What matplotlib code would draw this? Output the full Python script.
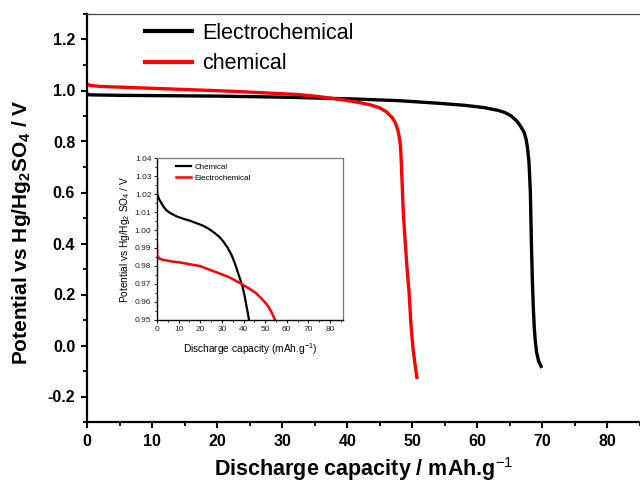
import matplotlib
matplotlib.use("Agg")
import matplotlib.pyplot as plt
from matplotlib.ticker import MultipleLocator

plt.rcParams['font.family'] = ['Liberation Sans', 'DejaVu Sans']
plt.rcParams['mathtext.fontset'] = 'custom'
plt.rcParams['mathtext.rm'] = 'Liberation Sans'
plt.rcParams['mathtext.bf'] = 'Liberation Sans:bold'

# Main discharge curves (capacity in mAh/g, potential in V)
electro_cap = [0, 0.3, 5, 10, 20, 30, 36, 42, 48, 54, 58, 61, 63.2, 64.3, 65.2,
               66.0, 66.6, 67.2, 67.5, 67.7, 67.9, 68.0, 68.15, 68.3, 68.45,
               68.6, 68.75, 68.9, 69.1, 69.4, 69.8]
electro_pot = [0.988, 0.983, 0.981, 0.980, 0.978, 0.974, 0.970, 0.966, 0.960,
               0.950, 0.942, 0.933, 0.922, 0.913, 0.900, 0.882, 0.862, 0.835,
               0.808, 0.776, 0.730, 0.686, 0.60, 0.41, 0.26, 0.15, 0.07, 0.02,
               -0.025, -0.06, -0.082]

chem_cap = [0, 0.5, 2, 9.6, 22.4, 32.6, 35.7, 38, 40, 41.8, 43.5, 44.9, 46,
            46.9, 47.4, 47.8, 48.05, 48.2, 48.3, 48.4, 48.6, 48.9, 49.2, 49.5,
            49.8, 50.1, 50.4, 50.7]
chem_pot = [1.025, 1.020, 1.016, 1.009, 0.997, 0.984, 0.976, 0.968, 0.961,
            0.953, 0.944, 0.933, 0.917, 0.894, 0.873, 0.843, 0.81, 0.776, 0.72,
            0.66, 0.53, 0.41, 0.30, 0.21, 0.08, -0.01, -0.07, -0.125]

# Inset: zoom on the plateau region
ins_chem_cap = [0, 0.02, 0.1, 0.4, 1, 2, 3, 4.3, 6, 9, 12, 15.1, 18, 21.3, 24,
                26.7, 28.8, 30.6, 32.6, 34.4, 36, 37.5, 38.5, 39.5, 40.5, 41.4,
                42, 42.5]
ins_chem_pot = [1.028, 1.023, 1.0205, 1.019, 1.017, 1.015, 1.013, 1.011,
                1.0095, 1.0076, 1.0063, 1.0052, 1.0039, 1.0024, 1.0006, 0.9983,
                0.9962, 0.9937, 0.9903, 0.9863, 0.9815, 0.976, 0.9725, 0.9687,
                0.9635, 0.9576, 0.9538, 0.9502]

ins_electro_cap = [0, 0.02, 0.2, 1, 2.5, 4.3, 7, 10.5, 15, 19.8, 23.5, 27.5,
                   33, 38.3, 42.9, 45.5, 47.6, 49.5, 51.4, 53, 54.5]
ins_electro_pot = [0.9918, 0.987, 0.9853, 0.9842, 0.9835, 0.9831, 0.9825,
                   0.982, 0.981, 0.980, 0.9783, 0.9765, 0.974, 0.9706, 0.9672,
                   0.9652, 0.9628, 0.9604, 0.9576, 0.9542, 0.9502]

fig = plt.figure(figsize=(6.4, 4.84), dpi=100)
ax = fig.add_axes([87 / 640, 1 - 422 / 484, 1 - 87 / 640, (422 - 14) / 484])

ax.plot(electro_cap, electro_pot, color='black', lw=2.4, label='Electrochemical',
        solid_joinstyle='round')
ax.plot(chem_cap, chem_pot, color='red', lw=2.4, label='chemical',
        solid_joinstyle='round')

ax.set_xlim(0, 85)
ax.set_ylim(-0.3, 1.3)
ax.xaxis.set_major_locator(MultipleLocator(10))
ax.xaxis.set_minor_locator(MultipleLocator(5))
ax.yaxis.set_major_locator(MultipleLocator(0.2))
ax.yaxis.set_minor_locator(MultipleLocator(0.1))
ax.yaxis.set_major_formatter(plt.FuncFormatter(lambda v, p: f"{v:.1f}"))
ax.xaxis.set_major_formatter(plt.FuncFormatter(lambda v, p: f"{v:.0f}"))

for s in ('left', 'bottom'):
    ax.spines[s].set_linewidth(1.6)
ax.spines['top'].set_linewidth(0.9)
ax.spines['top'].set_color('#444444')
ax.spines['right'].set_visible(False)
ax.tick_params(which='major', direction='out', length=4.5, width=1.5,
               labelsize=11.5, pad=4)
ax.tick_params(which='minor', direction='out', length=3, width=1.3)
for lbl in ax.get_xticklabels() + ax.get_yticklabels():
    lbl.set_fontweight('bold')

ax.set_xlabel(r'Discharge capacity / mAh.g$^{-1}$', fontsize=15.5,
              fontweight='bold')
ax.xaxis.set_label_coords(0.5, -0.082)
ax.set_ylabel(r'Potential vs Hg/Hg$_{\mathbf{2}}$SO$_{\mathbf{4}}$ / V',
              fontsize=15, fontweight='bold')
ax.yaxis.set_label_coords(-0.097, 0.466)

leg = ax.legend(loc='upper left', bbox_to_anchor=(145 / 640, 1 - 23 / 484),
                bbox_transform=fig.transFigure, frameon=False, fontsize=15.5,
                handlelength=2.2, handletextpad=0.45, labelspacing=0.42,
                borderpad=0, borderaxespad=0)
for h in leg.get_lines():
    h.set_linewidth(3)

# Inset
axi = fig.add_axes([157 / 640, 1 - 320 / 484, (343 - 157) / 640, (320 - 158) / 484])
axi.plot(ins_chem_cap, ins_chem_pot, color='black', lw=1.6, label='Chemical')
axi.plot(ins_electro_cap, ins_electro_pot, color='red', lw=1.8,
         label='Electrochemical')
axi.set_xlim(0, 86)
axi.set_ylim(0.95, 1.04)
axi.xaxis.set_major_locator(MultipleLocator(10))
axi.xaxis.set_minor_locator(MultipleLocator(5))
axi.yaxis.set_major_locator(MultipleLocator(0.01))
axi.yaxis.set_minor_locator(MultipleLocator(0.005))
axi.yaxis.set_major_formatter(plt.FuncFormatter(lambda v, p: f"{v:.2f}"))
axi.tick_params(which='major', direction='out', length=2.5, width=0.8,
                labelsize=6, pad=1.5, colors='#222222')
axi.tick_params(which='minor', direction='out', length=1.5, width=0.6)
for s in ('left', 'bottom'):
    axi.spines[s].set_linewidth(1.0)
for s in ('top', 'right'):
    axi.spines[s].set_linewidth(0.9)
    axi.spines[s].set_color('#777777')
axi.set_xlabel(r'Discharge capacity (mAh.g$^{-1}$)', fontsize=7.3, labelpad=6)
axi.set_ylabel(r'Potential vs Hg/Hg$_2$ SO$_4$ / V', fontsize=7.3, labelpad=2)
axi.legend(loc='upper left', bbox_to_anchor=(176 / 640, 1 - 163 / 484),
           bbox_transform=fig.transFigure, frameon=False, fontsize=5.8,
           handlelength=1.8, handletextpad=0.5, labelspacing=0.45,
           borderpad=0, borderaxespad=0)

fig.savefig('out.png', dpi=100)
